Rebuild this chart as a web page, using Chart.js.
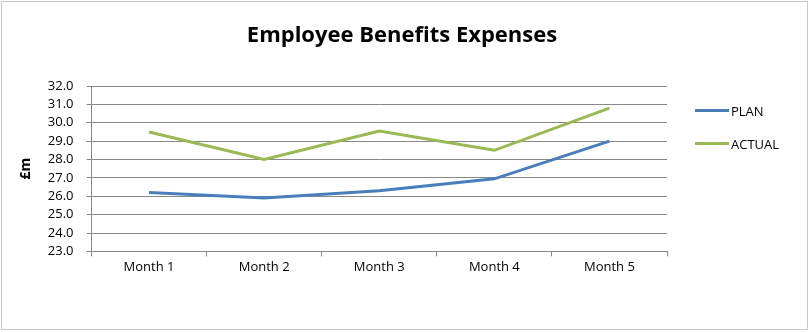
<!DOCTYPE html>
<html>
<head>
<meta charset="utf-8">
<script src="https://cdn.jsdelivr.net/npm/chart.js@4"></script>
<style>
    body { margin: 0; background: #fff; }
    #wrap { position: relative; width: 812px; height: 332px; }
    #title { position: absolute; left: 0; top: 18px; width: 804px; text-align: center; font: bold 22px "Open Sans", sans-serif; color: #000; }
    #legend { position: absolute; left: 695px; top: 94px; font: 13px "Open Sans", sans-serif; color: #000; }
    .item { display: flex; align-items: center; height: 33px; }
    .item span.swatch { display: inline-block; width: 34px; height: 3px; margin-right: 2px; }
</style>
</head>
<body>
<div id="wrap">
    <canvas id="chart" width="812" height="332"></canvas>
    <div id="title">Employee Benefits Expenses</div>
    <div id="legend"></div>
</div>
<script>
const months = ["Month 1", "Month 2", "Month 3", "Month 4", "Month 5"];
const plan = [26.2, 25.9, 26.3, 26.95, 29.0];
const actual = [29.5, 28.0, 29.55, 28.5, 30.8];
const seriesNames = ["PLAN", "ACTUAL"];
const seriesColors = ["#4a7ebb", "#98b954"];

const frame = {
    id: "frame",
    beforeDraw(chart) {
        const ctx = chart.ctx;
        ctx.save();
        ctx.fillStyle = "#fff";
        ctx.fillRect(0, 0, chart.width, chart.height);
        ctx.strokeStyle = "#c8c8c8";
        ctx.lineWidth = 1;
        ctx.strokeRect(1.5, 1.5, 806, 328);
        ctx.restore();
    }
};

const chart = new Chart(document.getElementById("chart"), {
    type: "line",
    data: {
        labels: months,
        datasets: [
            { label: seriesNames[0], data: plan, borderColor: seriesColors[0], borderWidth: 3, pointRadius: 0, tension: 0 },
            { label: seriesNames[1], data: actual, borderColor: seriesColors[1], borderWidth: 3, pointRadius: 0, tension: 0 }
        ]
    },
    options: {
        responsive: false,
        animation: false,
        layout: { padding: { left: 18, right: 145, top: 86, bottom: 54 } },
        plugins: {
            legend: { display: false },
            tooltip: { enabled: false }
        },
        scales: {
            x: {
                offset: true,
                grid: { offset: true, drawOnChartArea: false, tickLength: 5, color: "#888" },
                border: { color: "#888" },
                ticks: { color: "#000", font: { family: "Open Sans", size: 13 }, padding: 3 }
            },
            y: {
                min: 23,
                max: 32,
                title: { display: true, text: "£m", color: "#000", font: { family: "Open Sans", size: 14, weight: "bold" }, padding: 0 },
                grid: { color: "#888", tickLength: 5 },
                border: { color: "#888" },
                ticks: {
                    stepSize: 1,
                    autoSkip: false,
                    color: "#000",
                    font: { family: "Open Sans", size: 13 },
                    padding: 13,
                    callback: v => v.toFixed(1)
                }
            }
        }
    },
    plugins: [frame]
});

const legend = document.getElementById("legend");
chart.data.datasets.forEach(ds => {
    legend.innerHTML += `<div class="item"><span class="swatch" style="background:${ds.borderColor}"></span>${ds.label}</div>`;
});
</script>
</body>
</html>
